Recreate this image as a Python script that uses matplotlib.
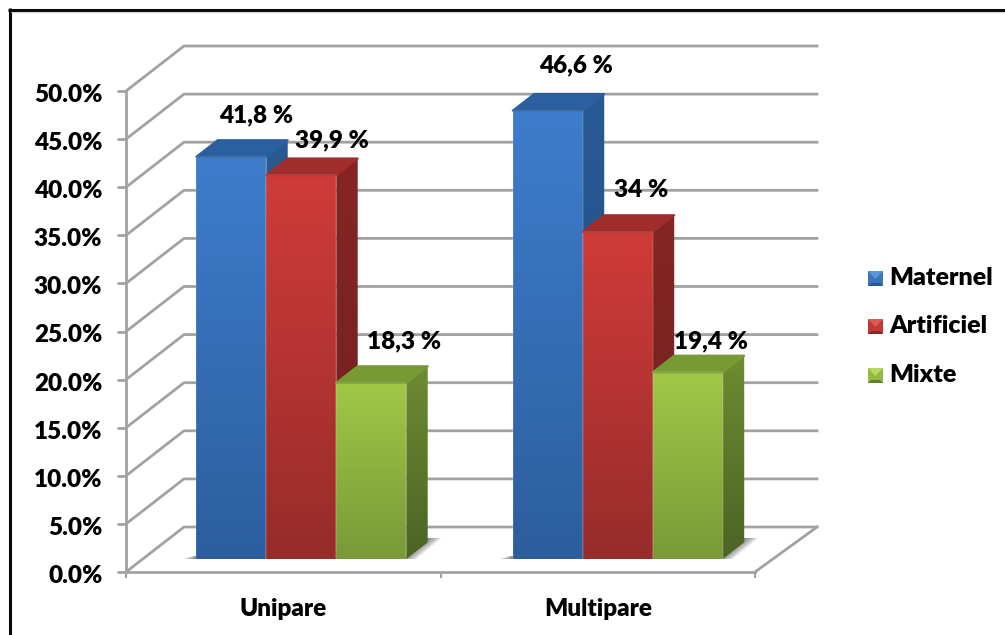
import matplotlib
matplotlib.use('Agg')
import matplotlib.pyplot as plt
import numpy as np
from matplotlib.colors import to_rgb
from matplotlib.lines import Line2D
from matplotlib.patches import Polygon, Rectangle
from matplotlib.transforms import ScaledTranslation

plt.rcParams['font.family'] = ['Lato', 'DejaVu Sans']
plt.rcParams['font.weight'] = 'heavy'

categories = ['Unipare', 'Multipare']
series_names = ['Maternel', 'Artificiel', 'Mixte']
maternel = [41.8, 46.6]
artificiel = [39.9, 34]
mixte = [18.3, 19.4]
value_labels = [['41,8 %', '46,6 %'], ['39,9 %', '34 %'], ['18,3 %', '19,4 %']]
y_ticks = [0, 5, 10, 15, 20, 25, 30, 35, 40, 45, 50]

W, H = 1005, 635
GREY = '#a2a2a2'
FS = 17.5
# shading per series: front top/bottom, side top/bottom, top face
shades = [
    ('#3e7dcc', '#2c5e9e', '#285a94', '#234d80', '#2c5f9f'),
    ('#d03b38', '#972c2b', '#852624', '#6e201f', '#a02d2b'),
    ('#a0c846', '#789a38', '#6d8c32', '#4c6325', '#779a35'),
]
legend_shades = [('#5b96dc', '#3a74bd', '#28588f'), ('#dc5a56', '#c23a37', '#8a2826'), ('#b4d860', '#94b840', '#64802e')]

fig = plt.figure(figsize=(W / 100, H / 100), dpi=100)
ax = fig.add_axes([126 / W, 1 - 572 / H, 629 / W, 481 / H])
ax.set_xlim(0, 2)
ax.set_ylim(0, 50)

# sizes of the 3D box in data units
px_x = 2 / 629
px_y = 50 / 481
wall_dx, wall_dy = 58 * px_x, 45 * px_y
back_right = 2 + 62 * px_x
bar_w = 70 * px_x
bar_depth = 0.37
bar_offset = 0.29


def group_left(i):
    return i + 0.5 + (18 + 2 * i) * px_x - 1.5 * bar_w


def shaded(poly, c_top, c_bottom, zorder):
    xs, ys = zip(*poly)
    t = np.linspace(0, 1, 128)[:, None, None]
    img = (1 - t) * np.array(to_rgb(c_top))[None, None, :] + t * np.array(to_rgb(c_bottom))[None, None, :]
    im = ax.imshow(img, extent=[min(xs), max(xs), min(ys), max(ys)], aspect='auto',
                   origin='upper', zorder=zorder, interpolation='bilinear')
    clip = Polygon(poly, closed=True, transform=ax.transData, fill=False, edgecolor='none')
    ax.add_patch(clip)
    clip.set_clip_on(False)
    im.set_clip_path(clip)


# walls and floor
for v in y_ticks:
    ax.plot([0, wall_dx, back_right], [v, v + wall_dy, v + wall_dy], color=GREY, lw=2, clip_on=False, zorder=1)
ax.plot([2, back_right], [0, wall_dy], color=GREY, lw=2, clip_on=False, zorder=1)

# bars, left to right so each one covers its neighbour's side
all_series = [maternel, artificiel, mixte]
for i in range(len(categories)):
    x0 = group_left(i)
    base = bar_offset * wall_dy
    ddx, ddy = bar_depth * wall_dx, bar_depth * wall_dy
    x_end = x0 + 3 * bar_w
    # soft floor shadow around the base of each group
    for k in range(7):
        grow = (7 - k) * 2.0
        ax.add_patch(Polygon([(x0 - grow * px_x, base), (x_end + (grow - 4) * px_x, base),
                              (x_end + ddx + grow * px_x, base + 21 * px_y), (x_end + ddx, base + 21 * px_y),
                              (x_end, base + 3 * px_y), (x0 - grow * 0.2 * px_x, base + 3 * px_y)],
                             closed=True, fc='#303030', ec='none', alpha=0.11, zorder=2, clip_on=False))
    for j, series in enumerate(all_series):
        left = x0 + j * bar_w
        right = left + bar_w
        top = base + series[i]
        c = shades[j]
        shaded([(left, base), (right, base), (right, top), (left, top)], c[0], c[1], 3 + j)
        shaded([(right, base), (right + ddx, base + ddy), (right + ddx, top + ddy), (right, top)], c[2], c[3], 3 + j)
        ax.add_patch(Polygon([(left, top), (right, top), (right + ddx, top + ddy), (left + ddx, top + ddy)],
                             closed=True, fc=c[4], ec=c[4], lw=1.5, joinstyle='round', zorder=3 + j, clip_on=False))
        # thin bevel along the front edges
        ax.plot([left, left, right, right], [base, top, top, base], color='white', alpha=0.12, lw=1.2,
                zorder=3 + j, clip_on=False, solid_joinstyle='round')

# axis styling
for name in ['top', 'right']:
    ax.spines[name].set_visible(False)
for name in ['left', 'bottom']:
    ax.spines[name].set_color(GREY)
    ax.spines[name].set_linewidth(2)
ax.set_yticks(y_ticks, [f'{v:.1f}%' for v in y_ticks])
ax.set_xticks([0, 1, 2], ['', '', ''])
ax.set_xticks([0.5, 1.5], categories, minor=True)
ax.tick_params(axis='y', length=6.5, width=2, color=GREY, pad=10.5, labelsize=FS)
ax.tick_params(axis='x', which='major', length=4.5, width=1.5, color=GREY)
ax.tick_params(axis='x', which='minor', length=0, pad=18.5, labelsize=FS)
ax.set_facecolor('none')
for lab in ax.get_yticklabels():
    lab.set_transform(lab.get_transform() + ScaledTranslation(0, -2 / 100, fig.dpi_scale_trans))

# data labels, placed by hand relative to the top of each bar (pixels)
label_shift = [[(25, 42), (28, 45)], [(31, 35), (23, 42)], [(33, 42), (23, 31)]]
for j, series in enumerate(all_series):
    for i, v in enumerate(series):
        x0 = group_left(i) + j * bar_w + bar_w / 2
        sx, sy = label_shift[j][i]
        ax.annotate(value_labels[j][i], (x0, bar_offset * wall_dy + v), xytext=(sx * 0.72, sy * 0.72),
                    textcoords='offset points', ha='center', va='center', fontsize=FS,
                    fontweight='heavy', color='black', zorder=20, annotation_clip=False)

# legend keys with a bevelled look
key_tops = [271, 319, 368]
for name, y, c in zip(series_names, key_tops, legend_shades):
    tr = fig.transFigure
    pts = lambda p: [(a / W, 1 - b / H) for a, b in p]
    x1, x2, y2 = 868, 883, y + 15
    fig.add_artist(Rectangle((x1 / W, 1 - y2 / H), 15 / W, 15 / H, transform=tr, fc=c[1], ec='none'))
    fig.add_artist(Polygon(pts([(x1, y), (x2, y), ((x1 + x2) / 2, y + 8)]), transform=tr, fc=c[0], ec='none'))
    fig.add_artist(Polygon(pts([(x1, y2), (x2, y2), (x2 - 3, y2 - 3), (x1 + 3, y2 - 3)]), transform=tr, fc=c[2], ec='none'))
    fig.text(889 / W, 1 - (y + 7) / H, name, va='center', ha='left', fontsize=FS + 0.5, fontweight='heavy', color='black')

# frame runs along the top and left edges only
fig.add_artist(Line2D([9.5 / W, 9.5 / W], [0, 1 - 8 / H], transform=fig.transFigure, color='#0a0a0a', lw=2.2,
                      solid_capstyle='butt'))
fig.add_artist(Line2D([8 / W, 1], [1 - 9.5 / H, 1 - 9.5 / H], transform=fig.transFigure, color='#0a0a0a', lw=2.2,
                      solid_capstyle='butt'))
fig.add_artist(Line2D([11 / W, 1], [1 - 11.5 / H, 1 - 11.5 / H], transform=fig.transFigure, color='#d0d0d0', lw=0.8,
                      solid_capstyle='butt'))

fig.savefig('out.png', dpi=100)
